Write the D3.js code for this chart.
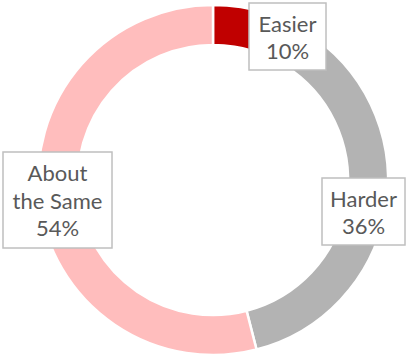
<!DOCTYPE html>
<html><head><meta charset="utf-8">
<script src="https://cdn.jsdelivr.net/npm/d3@7"></script>
<style>body{margin:0;background:#fff}svg{display:block}</style>
</head><body>
<svg id="c" width="409" height="364"></svg>
<script>
const categories = ["Easier", "Harder", "About the Same"];
const values = [10, 36, 54];
const labelLines = [["Easier", "10%"], ["Harder", "36%"], ["About", "the Same", "54%"]];
const colors = ["#C00000", "#B3B3B3", "#FFBDBD"];

const svg = d3.select("#c");
const cx = 213, cy = 180, R = 175, r = 135;
const g = svg.append("g").attr("transform", `translate(${cx},${cy})`);
const pie = d3.pie().sort(null).value(d => d)(values);
const arc = d3.arc().innerRadius(r).outerRadius(R);
g.selectAll("path").data(pie).enter().append("path")
  .attr("d", arc).attr("fill", (d, i) => colors[i])
  .attr("stroke", "#fff").attr("stroke-width", 2.5);

// label boxes [x, y, w, h]
const boxes = [[249, 3, 77, 67], [322, 178, 83, 67], [3, 152, 109, 96]];
const fs = 22, lh = 27.5;
const lg = svg.append("g");
boxes.forEach((b, i) => {
  lg.append("rect").attr("x", b[0]).attr("y", b[1]).attr("width", b[2]).attr("height", b[3])
    .attr("fill", "#fff").attr("stroke", "#BFBFBF").attr("stroke-width", 1.5);
  const lines = labelLines[i];
  const midY = b[1] + b[3] / 2;
  const t = lg.append("text").attr("text-anchor", "middle")
    .attr("font-family", "Lato, 'Open Sans', sans-serif").attr("font-size", fs).attr("fill", "#595959");
  lines.forEach((ln, k) => {
    t.append("tspan").attr("x", b[0] + b[2] / 2)
      .attr("y", midY + (k - (lines.length - 1) / 2) * lh + fs * 0.4).text(ln);
  });
});
</script>
</body></html>
